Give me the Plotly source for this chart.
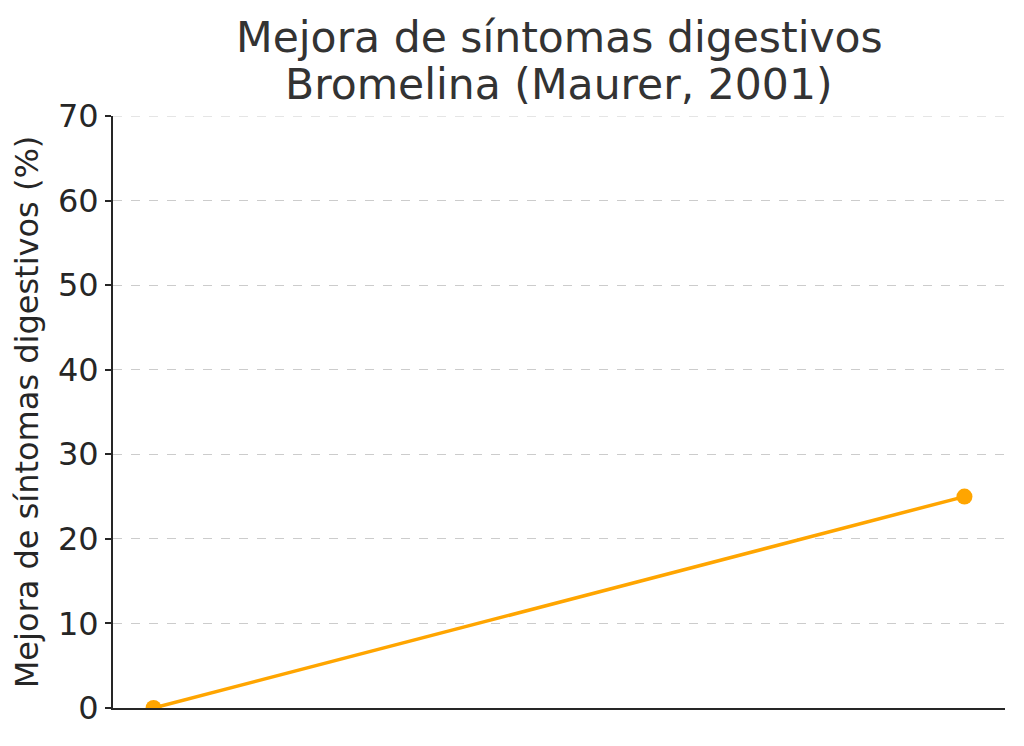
import plotly.graph_objects as go

x_vals = [0, 1]
mejora = [0, 25]
y_ticks = [0, 10, 20, 30, 40, 50, 60, 70]
title_lines = ["Mejora de síntomas digestivos", "Bromelina (Maurer, 2001)"]

fig = go.Figure()
fig.add_trace(go.Scatter(
    x=x_vals, y=mejora, mode="lines+markers",
    line=dict(color="#FFA500", width=3.5),
    marker=dict(color="#FFA500", size=16),
    showlegend=False,
))

fig.update_layout(
    width=1024, height=746,
    margin=dict(l=105, r=27, t=108, b=46),
    paper_bgcolor="white", plot_bgcolor="white",
    font=dict(family="DejaVu Sans", color="#262626"),
)
for txt, yy in zip(title_lines, [1.1318, 1.0524]):
    fig.add_annotation(text=txt, xref="paper", yref="paper", x=0.5, y=yy,
                       xanchor="center", yanchor="middle", showarrow=False,
                       font=dict(size=42.5, color="#333333"))

# top gridline (at the last tick value), which plotly hides at the range edge
fig.add_shape(type="line", xref="paper", yref="y", x0=0, x1=1,
              y0=y_ticks[-1], y1=y_ticks[-1],
              line=dict(color="#cccccc", width=1, dash="dash"), layer="below")

fig.update_xaxes(
    range=[-0.05, 1.05], showgrid=False, zeroline=False,
    showticklabels=False, ticks="",
    showline=True, linecolor="#262626", linewidth=2,
)
fig.update_yaxes(
    range=[0, 70], tickvals=y_ticks, showgrid=True,
    gridcolor="#cccccc", griddash="dash", gridwidth=1, zeroline=False,
    showline=True, linecolor="#262626", linewidth=2,
    ticks="outside", ticklen=6, tickwidth=2, tickcolor="#262626",
    tickfont=dict(size=32),
    title=dict(text="Mejora de síntomas digestivos (%)", font=dict(size=32), standoff=10),
)

fig.write_html("out.html")
